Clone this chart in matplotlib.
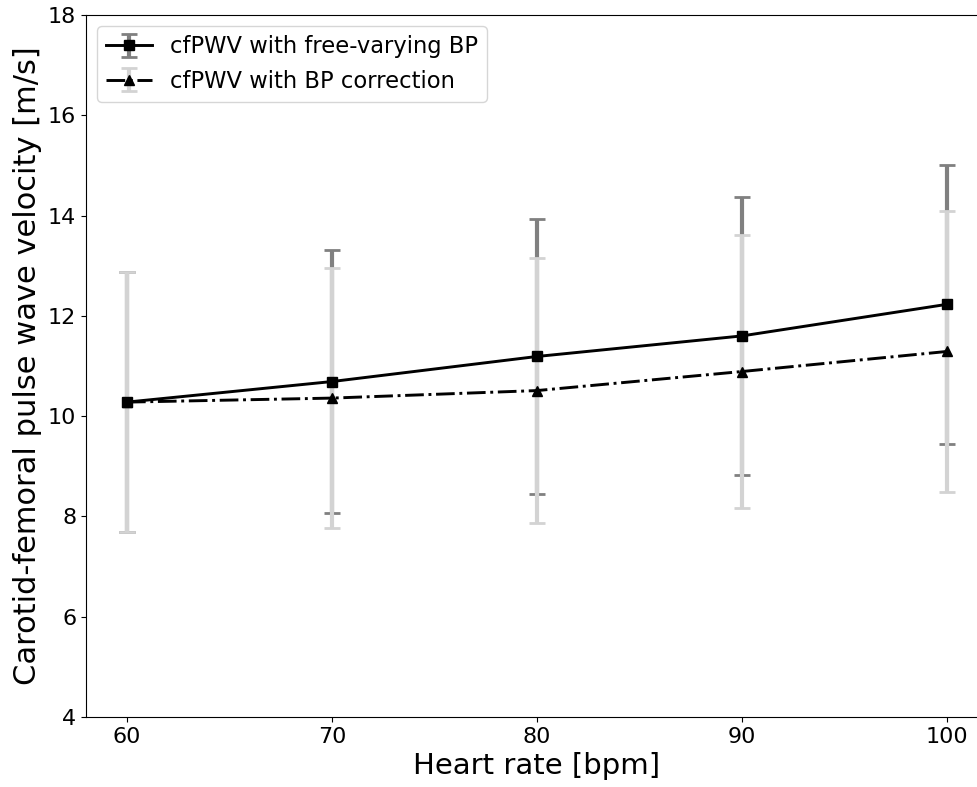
import matplotlib
matplotlib.use("Agg")
import matplotlib.pyplot as plt
import numpy as np

heart_rate = [60, 70, 80, 90, 100]

# cfPWV with free-varying blood pressure
pwv_free = [10.28, 10.69, 11.19, 11.60, 12.23]
sd_free = [2.60, 2.62, 2.74, 2.77, 2.78]

# cfPWV with blood pressure correction
pwv_corr = [10.28, 10.36, 10.51, 10.89, 11.29]
sd_corr = [2.60, 2.60, 2.65, 2.73, 2.80]

fig = plt.figure(figsize=(9.77, 7.87), dpi=100)
W, H = 977, 787
ax = fig.add_axes([86 / W, 70 / H, (988 - 86) / W, (717 - 15) / H])

ax.errorbar(heart_rate, pwv_free, yerr=sd_free, color="black", linestyle="-",
            linewidth=2.1, marker="s", markersize=7,
            ecolor="gray", elinewidth=3, capsize=6, capthick=2,
            label="cfPWV with free-varying BP")
ax.errorbar(heart_rate, pwv_corr, yerr=sd_corr, color="black", linestyle="-.",
            linewidth=2.1, marker="^", markersize=7,
            ecolor="lightgray", elinewidth=3, capsize=6, capthick=2,
            label="cfPWV with BP correction")

# keep the lines above both sets of error bars
for ln in ax.lines:
    if ln.get_marker() in ("s", "^"):
        ln.set_zorder(4)

ax.set_xlim(58, 102)
ax.set_ylim(4, 18)
ax.set_xticks(heart_rate)
ax.set_yticks(np.arange(4, 19, 2))
ax.tick_params(labelsize=16)
ax.spines["right"].set_visible(False)

ax.set_xlabel("Heart rate [bpm]", fontsize=21)
ax.set_ylabel("Carotid-femoral pulse wave velocity [m/s]", fontsize=22)
ax.legend(loc="upper left", fontsize=16.3)

fig.savefig("out.png", dpi=100)
